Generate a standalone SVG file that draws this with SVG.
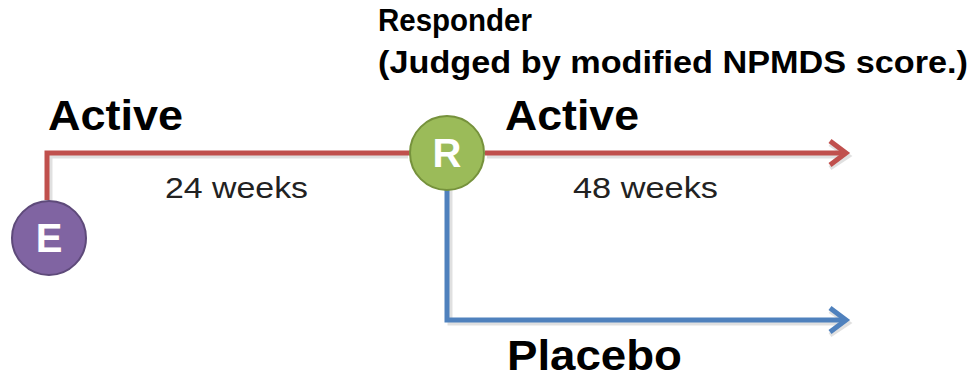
<svg xmlns="http://www.w3.org/2000/svg" width="979" height="379" viewBox="0 0 979 379">
<style>
.big{font-family:"Liberation Sans",Arial,sans-serif;font-weight:bold;font-size:42px;fill:#000}
.mid{font-family:"Liberation Sans",Arial,sans-serif;font-weight:bold;font-size:31px;fill:#000}
.wk{font-family:"Liberation Sans",Arial,sans-serif;font-size:29px;fill:#222}
.red{fill:none;stroke:#C0504D;stroke-width:5}
.blue{fill:none;stroke:#4F81BD;stroke-width:5}
.sh{fill:none;stroke:#000;stroke-opacity:0.12;stroke-width:5}
.lbl{font-family:"Liberation Sans",Arial,sans-serif;font-weight:bold;font-size:40px;fill:#fff}
</style>
<rect width="979" height="379" fill="#fff"/>
<g id="connectors">
<path class="sh" d="M50 200 V156 H408 M487 156 H846 M830 144 L848 156 L830 168"/>
<path class="sh" d="M450 190 V323 H846 M830 311 L848 323 L830 335"/>
<path class="red" d="M47 200 V153 H410 M485 153 H846"/>
<path class="red" d="M830 141 L846 153 L830 165" stroke-width="6"/>
<path class="blue" d="M447 190 V320 H846"/>
<path class="blue" d="M830 308 L846 320 L830 332" stroke-width="6"/>
</g>
<g id="node-E">
<circle cx="49" cy="238" r="37" fill="#8064A2" stroke="#5E4A7A" stroke-width="2"/>
<text class="lbl" x="49" y="252" text-anchor="middle">E</text>
</g>
<g id="node-R">
<circle cx="447" cy="153" r="37" fill="#9BBB59" stroke="#76923C" stroke-width="2"/>
<text class="lbl" x="447" y="167" text-anchor="middle">R</text>
</g>
<g id="labels">
<text class="big" x="48" y="130" textLength="135" lengthAdjust="spacingAndGlyphs">Active</text>
<text class="big" x="505" y="130" textLength="134" lengthAdjust="spacingAndGlyphs">Active</text>
<text class="big" x="507" y="370" textLength="175" lengthAdjust="spacingAndGlyphs">Placebo</text>
<text class="mid" x="378" y="31" textLength="154" lengthAdjust="spacingAndGlyphs">Responder</text>
<text class="mid" x="378" y="73" textLength="590" lengthAdjust="spacingAndGlyphs">(Judged by modified NPMDS score.)</text>
<text class="wk" x="165" y="198" textLength="143" lengthAdjust="spacingAndGlyphs">24 weeks</text>
<text class="wk" x="573" y="198" textLength="145" lengthAdjust="spacingAndGlyphs">48 weeks</text>
</g>
</svg>
